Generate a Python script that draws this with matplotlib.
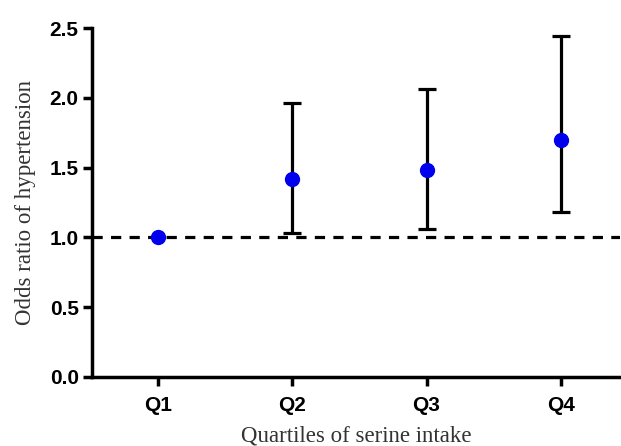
import matplotlib
matplotlib.use("Agg")
import matplotlib.pyplot as plt

# data
groups = ["Q1", "Q2", "Q3", "Q4"]
odds = [1.00, 1.42, 1.48, 1.70]
ci_low = [1.00, 1.03, 1.06, 1.18]
ci_high = [1.00, 1.96, 2.06, 2.44]
yticks = [0.0, 0.5, 1.0, 1.5, 2.0, 2.5]

fig = plt.figure(figsize=(6.21, 4.46), dpi=100)
ax = fig.add_axes([0.148, 0.155, 0.85, 0.782])

x = list(range(len(groups)))
err_lo = [o - l for o, l in zip(odds, ci_low)]
err_hi = [h - o for o, h in zip(odds, ci_high)]

# only draw bars where there is an interval
for xi, o, lo, hi in zip(x, odds, err_lo, err_hi):
    if lo + hi > 0:
        ax.errorbar(xi, o, yerr=[[lo], [hi]], fmt="none", ecolor="black",
                    elinewidth=2.3, capsize=6.5, capthick=2.3, zorder=3)

ax.axhline(1.0, color="black", lw=2.3, ls=(0, (3.2, 2.6)), zorder=2)
ax.plot(x, odds, "o", color="#0000ee", ms=10, zorder=4)

ax.set_xlim(-0.494, 3.44)
ax.set_ylim(0, 2.5)
ax.set_xticks(x)
ax.set_xticklabels(groups)
ax.set_yticks(yticks)
ax.set_yticklabels(["%.1f" % t for t in yticks])

for lab in ax.get_xticklabels() + ax.get_yticklabels():
    lab.set_fontfamily("Liberation Sans")
    lab.set_fontweight("bold")
    lab.set_fontsize(15)

ax.spines["top"].set_visible(False)
ax.spines["right"].set_visible(False)
ax.spines["left"].set_linewidth(2.5)
ax.spines["bottom"].set_linewidth(2.5)
ax.tick_params(axis="both", width=2.5, length=6.5, color="black")
ax.tick_params(axis="x", pad=7)
ax.tick_params(axis="y", pad=3)

ax.set_xlabel("Quartiles of serine intake", family="Liberation Serif",
              fontsize=16.5, color="#333333", labelpad=8)
ax.set_ylabel("Odds ratio of hypertension", family="Liberation Serif",
              fontsize=16.5, color="#333333", labelpad=10)

fig.savefig("out.png", dpi=100)
